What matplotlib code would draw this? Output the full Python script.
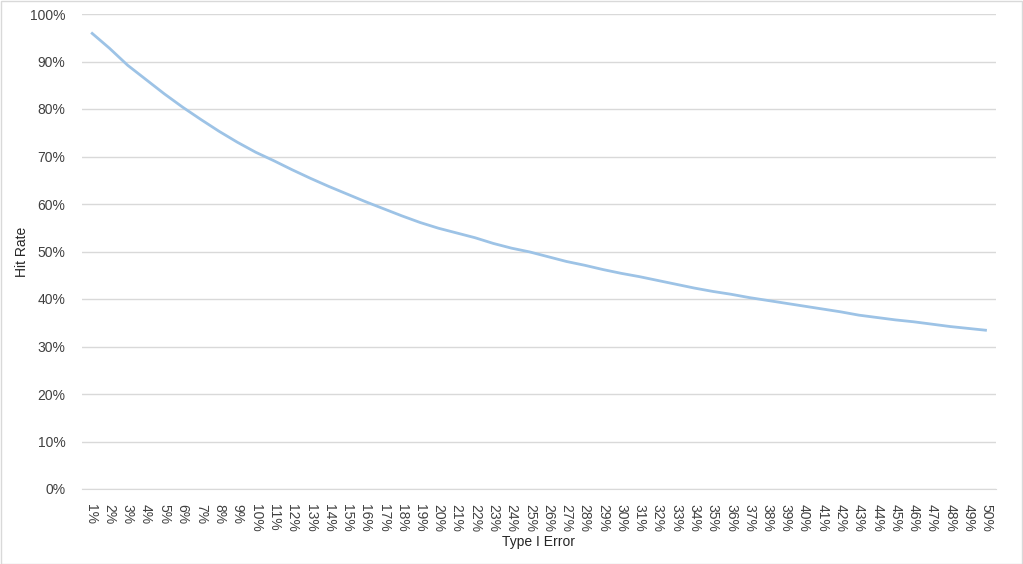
import matplotlib.pyplot as plt
from matplotlib.ticker import PercentFormatter
from matplotlib.patches import Rectangle

plt.rcParams['font.family'] = ['Liberation Sans', 'DejaVu Sans']

# Type I error categories (1% .. 50%)
type1_error = [f"{i}%" for i in range(1, 51)]

# hit rate, in percent
hit_rate = [96.1, 92.8, 89.2, 86.2, 83.2, 80.4, 77.8, 75.3, 73.0, 70.9,
            69.1, 67.2, 65.4, 63.7, 62.1, 60.5, 59.0, 57.5, 56.1, 54.9,
            53.9, 52.9, 51.7, 50.7, 49.9, 48.9, 47.9, 47.1, 46.2, 45.4,
            44.7, 43.9, 43.1, 42.3, 41.6, 41.0, 40.3, 39.7, 39.1, 38.5,
            37.9, 37.3, 36.6, 36.1, 35.6, 35.2, 34.7, 34.2, 33.8, 33.4]

fig = plt.figure(figsize=(10.23, 5.64), dpi=100)
ax = fig.add_axes([82 / 1023, 1 - 489 / 564, (996 - 82) / 1023, (489 - 14) / 564])

x = list(range(len(type1_error)))
ax.plot(x, hit_rate, color="#9DC3E6", linewidth=2.0, solid_capstyle="butt")

ax.set_xlim(-0.5, len(type1_error) - 0.5)
ax.set_ylim(0, 100)
ax.set_yticks(range(0, 101, 10))
ax.yaxis.set_major_formatter(PercentFormatter(decimals=0))
ax.set_xticks(x)
ax.set_xticklabels(type1_error, rotation=-90, fontsize=10, color="#404040")
ax.tick_params(axis="y", labelsize=10, labelcolor="#404040", length=0, pad=12)
ax.tick_params(axis="x", length=0, pad=11)

ax.grid(axis="y", color="#D9D9D9", linewidth=1.0)
ax.set_axisbelow(True)
for s in ["top", "right", "left"]:
    ax.spines[s].set_visible(False)
ax.spines["bottom"].set_color("#D9D9D9")

# axis titles placed like the original
fig.text(22 / 1023, 1 - 252 / 564, "Hit Rate", rotation=90, fontsize=10,
         color="#262626", ha="center", va="center")
fig.text(539 / 1023, 1 - 542 / 564, "Type I Error", fontsize=10,
         color="#262626", ha="center", va="center")

fig.patches.append(Rectangle((0.5 / 1023, 0.5 / 564), 1 - 1.5 / 1023, 1 - 1.5 / 564,
                             transform=fig.transFigure, fill=False,
                             edgecolor="#D9D9D9", linewidth=1.0))

fig.savefig("out.png", dpi=100)
